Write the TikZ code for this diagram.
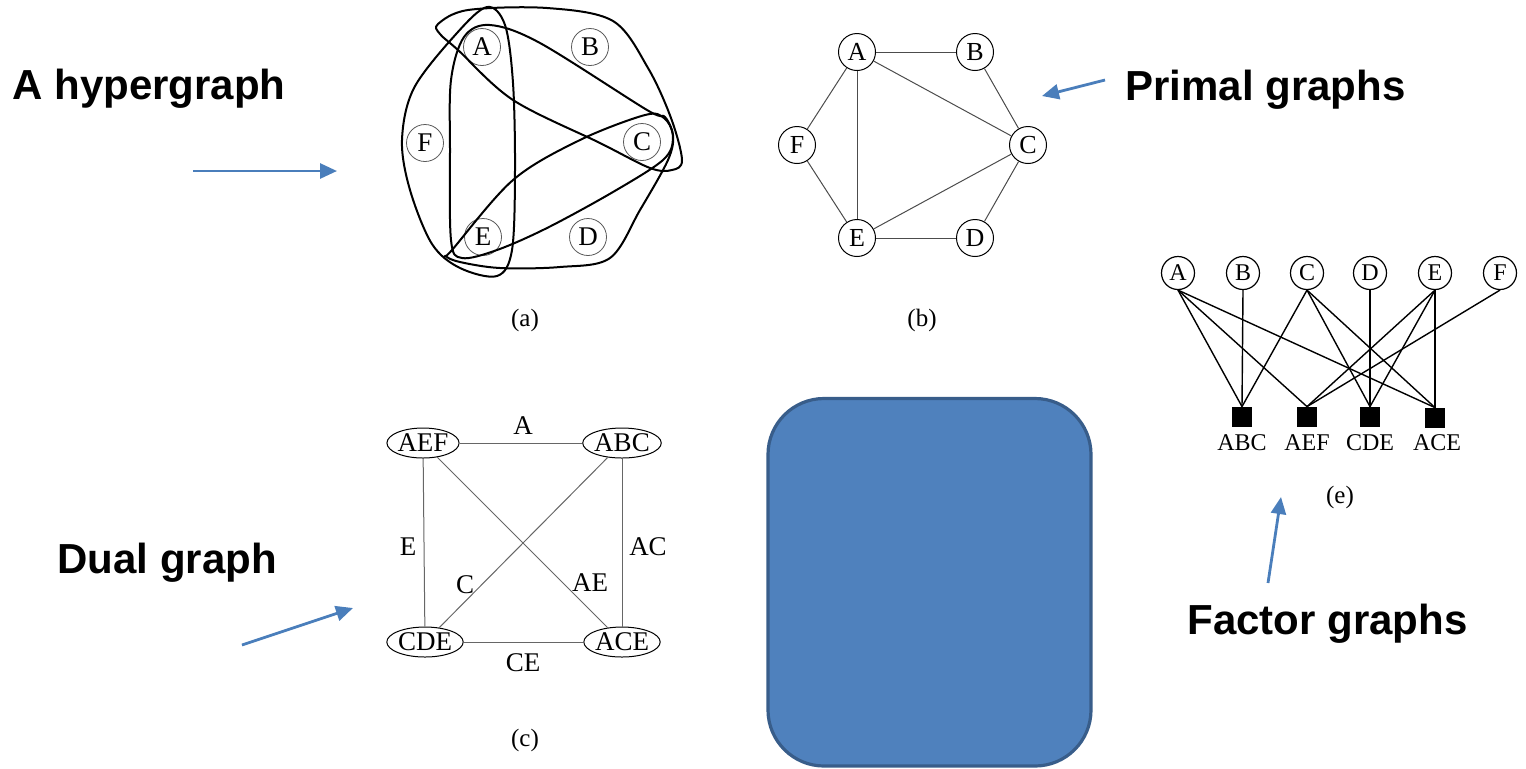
\documentclass[tikz,border=0pt]{standalone}
\usepackage{fontspec}
\setmainfont{Liberation Serif}
\newfontfamily\lsans{Liberation Sans}
\usetikzlibrary{arrows.meta,shapes.geometric}
\definecolor{arrowblue}{HTML}{4A7EBB}
\definecolor{boxfill}{HTML}{4F81BD}
\definecolor{boxedge}{HTML}{385D8A}
\begin{document}
\begin{tikzpicture}[x=0.5pt,y=-0.5pt,
  hvert/.style={circle,draw=black!65,line width=0.4pt,minimum size=18.5pt,inner sep=0pt,font=\fontsize{13.5}{13.5}\selectfont},
  hedge/.style={line width=1pt,line join=round},
  pvert/.style={circle,draw=black,line width=0.5pt,minimum size=18.5pt,inner sep=0pt,font=\fontsize{13}{13}\selectfont},
  pedge/.style={draw=black!70,line width=0.5pt},
  dvert/.style={ellipse,draw=black,line width=0.5pt,minimum width=36pt,minimum height=15pt,inner sep=0pt,font=\fontsize{13.5}{14}\selectfont},
  dedge/.style={draw=black!60,line width=0.5pt},
  dlab/.style={font=\fontsize{13.5}{14}\selectfont,inner sep=0pt},
  fvert/.style={circle,draw=black,line width=0.6pt,minimum size=16.5pt,inner sep=0pt,font=\fontsize{12}{12}\selectfont},
  fsq/.style={rectangle,fill=black,minimum size=10pt,inner sep=0pt},
  fedge/.style={draw=black,line width=0.7pt},
  flab/.style={font=\fontsize{12}{12}\selectfont,inner sep=0pt},
  captxt/.style={font=\fontsize{12.5}{13}\selectfont,inner sep=0pt},
  biglabel/.style={font=\lsans\bfseries\fontsize{21}{25}\selectfont,inner sep=0pt,anchor=base west},
  barrow/.style={draw=arrowblue,line width=1.4pt,-{Triangle[length=8.5pt,width=7.5pt]}}
]
\useasboundingbox (0,0) rectangle (1526,768);

% ---------- labels ----------
\node[biglabel] (lh) at (12,99) {A hypergraph};
\node[biglabel] (lp) at (1125,100) {Primal graphs};
\node[biglabel] (ld) at (57,573) {Dual graph};
\node[biglabel] (lf) at (1187,634) {Factor graphs};

% ---------- arrows ----------
\coordinate (ha0) at (193,171); \coordinate (ha1) at (337,171);
\coordinate (pa0) at (1105,80); \coordinate (pa1) at (1042,96);
\coordinate (da0) at (242,645); \coordinate (da1) at (353,608);
\coordinate (fa0) at (1268,583); \coordinate (fa1) at (1281,497);
\draw[barrow] (ha0) -- (ha1);
\draw[barrow] (pa0) -- (pa1);
\draw[barrow] (da0) -- (da1);
\draw[barrow] (fa0) -- (fa1);

% ---------- (a) hypergraph ----------
\node[hvert] (hA) at (482,47) {A};
\node[hvert] (hB) at (590,47) {B};
\node[hvert] (hC) at (642,142) {C};
\node[hvert] (hF) at (425,143) {F};
\node[hvert] (hE) at (483,237) {E};
\node[hvert] (hD) at (588,237) {D};
% ABC
\draw[hedge] plot[smooth cycle,tension=0.55] coordinates {(438,24) (468,10) (547,8) (613,21) (648,68) (671,118) (682,160) (672,170) (650,168) (600,143) (513,100) (458,50) (440,34)};
% AEF
\draw[hedge] plot[smooth cycle,tension=0.55] coordinates {(487,7) (505,25) (513,83) (515,170) (512,250) (497,276) (460,268) (432,244) (410,190) (402,140) (414,88) (457,33)};
% ACE
\draw[hedge] plot[smooth cycle,tension=0.55] coordinates {(450,150) (451,80) (464,37) (490,25) (540,43) (647,110) (665,117) (673,138) (663,160) (613,192) (547,228) (497,250) (462,258) (451,240)};
% CDE
\draw[hedge] plot[smooth cycle,tension=0.55] coordinates {(452,250) (513,180) (580,140) (645,115) (664,118) (673,135) (668,160) (640,210) (610,258) (560,267) (500,268) (460,262) (446,256)};
\node[captxt] (ca) at (525,320) {(a)};

% ---------- (b) primal graph ----------
\node[pvert] (pA) at (857,52) {A};
\node[pvert] (pB) at (975,52) {B};
\node[pvert] (pF) at (797,145) {F};
\node[pvert] (pC) at (1028,145) {C};
\node[pvert] (pE) at (857,238) {E};
\node[pvert] (pD) at (975,238) {D};
\draw[pedge] (pA) -- (pB);
\draw[pedge] (pA) -- (pC);
\draw[pedge] (pA) -- (pF);
\draw[pedge] (pA) -- (pE);
\draw[pedge] (pB) -- (pC);
\draw[pedge] (pC) -- (pE);
\draw[pedge] (pC) -- (pD);
\draw[pedge] (pF) -- (pE);
\draw[pedge] (pE) -- (pD);
\node[captxt] (cb) at (922,320) {(b)};

% ---------- (c) dual graph ----------
\node[dvert] (dAEF) at (423,443) {AEF};
\node[dvert] (dABC) at (622,443) {ABC};
\node[dvert] (dCDE) at (425,642) {CDE};
\node[dvert] (dACE) at (622,642) {ACE};
\draw[dedge] (dAEF) -- (dABC);
\draw[dedge] (dCDE) -- (dACE);
\draw[dedge] (dAEF) -- (dCDE);
\draw[dedge] (dABC) -- (dACE);
\draw[dedge] (dAEF) -- (dACE);
\draw[dedge] (dABC) -- (dCDE);
\node[dlab] (lA) at (523,426) {A};
\node[dlab] (lE) at (408,547) {E};
\node[dlab] (lC) at (465,585) {C};
\node[dlab] (lAE) at (590,583) {AE};
\node[dlab] (lAC) at (648,547) {AC};
\node[dlab] (lCE) at (523,663) {CE};
\node[captxt] (cc) at (525,740) {(c)};

% ---------- blue box ----------
\draw[fill=boxfill,draw=boxedge,line width=1.6pt,rounded corners=28pt] (768,398.5) rectangle (1091,766);

% ---------- (e) factor graph ----------
\node[fvert] (fA) at (1178,273) {A};
\node[fvert] (fB) at (1243,273) {B};
\node[fvert] (fC) at (1307,273) {C};
\node[fvert] (fD) at (1370,273) {D};
\node[fvert] (fE) at (1435,273) {E};
\node[fvert] (fF) at (1500,273) {F};
\node[fsq] (gABC) at (1242,417) {};
\node[fsq] (gAEF) at (1307,417) {};
\node[fsq] (gCDE) at (1370,417) {};
\node[fsq] (gACE) at (1435,418) {};
\draw[fedge] (fA.south) -- (gABC.north);
\draw[fedge] (fA.south) -- (gAEF.north);
\draw[fedge] (fA.south) -- (gACE.north);
\draw[fedge] (fB.south) -- (gABC.north);
\draw[fedge] (fC.south) -- (gABC.north);
\draw[fedge] (fC.south) -- (gCDE.north);
\draw[fedge] (fC.south) -- (gACE.north);
\draw[fedge] (fD.south) -- (gCDE.north);
\draw[fedge] (fE.south) -- (gAEF.north);
\draw[fedge] (fE.south) -- (gCDE.north);
\draw[fedge] (fE.south) -- (gACE.north);
\draw[fedge] (fF.south) -- (gAEF.north);
\node[flab] (tABC) at (1242,443) {ABC};
\node[flab] (tAEF) at (1307,443) {AEF};
\node[flab] (tCDE) at (1370,443) {CDE};
\node[flab] (tACE) at (1437,443) {ACE};
\node[captxt] (ce) at (1340,497) {(e)};
\end{tikzpicture}
\end{document}
